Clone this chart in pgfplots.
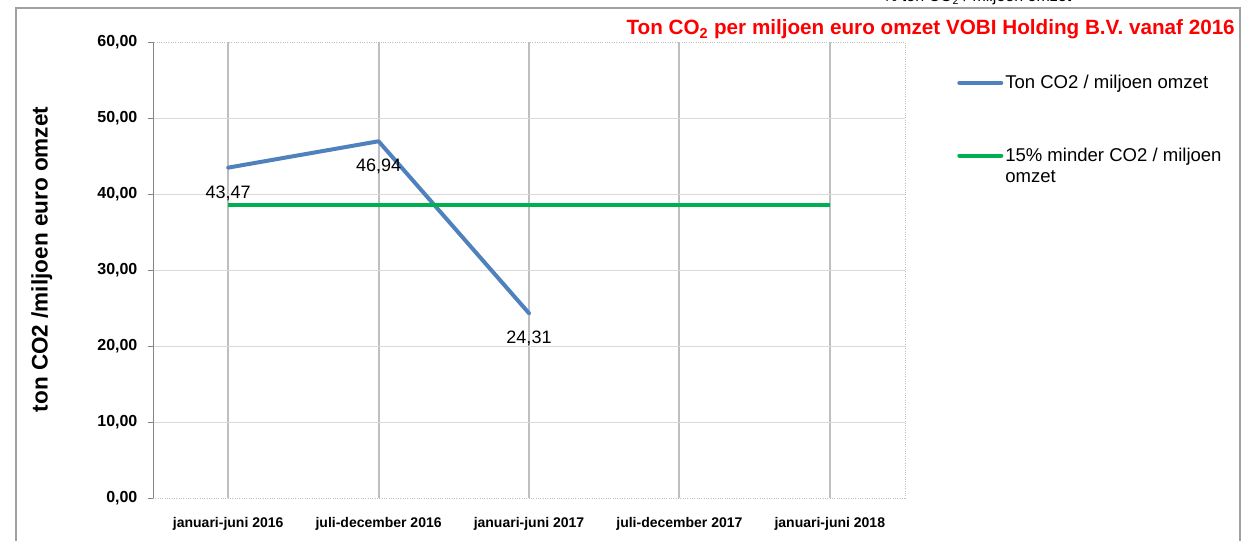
\documentclass[border=0pt]{standalone}
\usepackage{pgfplots}
\pgfplotsset{compat=1.18}
\usepackage{fontspec}
\setmainfont{Liberation Sans}
\definecolor{blueline}{HTML}{4F81BD}
\definecolor{greenline}{HTML}{00B050}
\definecolor{vgrid}{HTML}{BFBFBF}
\definecolor{hgrid}{HTML}{D9D9D9}
\definecolor{axgray}{HTML}{868686}
\definecolor{framegray}{HTML}{A0A0A0}
\begin{document}
\begin{tikzpicture}
\useasboundingbox (0,0) rectangle (930.75pt,405pt);
\draw[framegray, line width=1.1pt] (12pt,-5pt) -- (12pt,399pt) -- (930pt,399pt) -- (930pt,-5pt);
\node[anchor=base west, inner sep=0pt, font=\fontsize{12}{14}\selectfont] at (662.25pt,403.5pt) {\% ton CO\textsubscript{2} / miljoen omzet};
\node[anchor=base east, inner sep=0pt, text=red, font=\fontsize{15.5}{18}\selectfont\bfseries] at (926.25pt,378.75pt) {Ton CO\textsubscript{2} per miljoen euro omzet VOBI Holding B.V. vanaf 2016};
\node[rotate=90, inner sep=0pt, font=\fontsize{16.9}{19}\selectfont\bfseries] at (31.3pt,210.4pt) {ton CO2 /miljoen euro omzet};
\begin{axis}[
  at={(114.75pt,31.5pt)}, anchor=south west,
  scale only axis, width=564pt, height=342pt,
  xmin=-0.5, xmax=4.5, ymin=0, ymax=60,
  /pgf/number format/assume math mode=true,
  xtick={0,1,2,3,4},
  xticklabels={januari-juni 2016, juli-december 2016, januari-juni 2017, juli-december 2017, januari-juni 2018},
  xticklabel style={font=\fontsize{10.5}{12}\selectfont\bfseries, inner sep=0pt, anchor=north, yshift=-10.3pt},
  xtick style={draw=none},
  ytick={0,10,...,60},
  yticklabel={\pgfmathprintnumber[fixed,fixed zerofill,precision=2,use comma]{\tick}},
  yticklabel style={font=\fontsize{12}{14}\selectfont\bfseries, inner sep=0pt, xshift=-7.5pt},
  tick align=outside, ytick pos=left, major tick length=4pt,
  ytick style={axgray, line width=0.75pt},
  xmajorgrids=true,
  major x grid style={vgrid, line width=1.5pt},
  extra y ticks={10,20,30,40,50},
  extra y tick labels={},
  extra y tick style={grid=major, major grid style={hgrid, line width=0.75pt}},
  axis line style={vgrid, densely dotted, line width=0.75pt},
  legend style={at={(axis description cs:1,1)}, anchor=north west, xshift=39pt, yshift=-23pt,
    draw=none, fill=none, inner sep=0pt, row sep=40pt,
    font=\fontsize{13.9}{15.75}\selectfont, nodes={inner sep=1.5pt}, cells={anchor=base west}},
  legend image code/.code={\draw[#1, line cap=round] (0pt,4.2pt) -- (31.5pt,4.2pt);},
]
\addplot[blueline, line width=3pt, line cap=round, line join=round,
  nodes near coords, point meta=explicit symbolic,
  every node near coord/.style={anchor=center, yshift=-19pt, font=\fontsize{13.5}{16}\selectfont, text=black}]
  coordinates {(0,43.47)[43,47] (1,46.94)[46,94] (2,24.31)[24,31]};
\addlegendentry{Ton CO2 / miljoen omzet}
\addplot[greenline, line width=3pt]
  coordinates {(0,38.57) (1,38.57) (2,38.57) (3,38.57) (4,38.57)};
\addlegendentry{\parbox[t]{200pt}{15\% minder CO2 / miljoen\\omzet}}
\draw[axgray, line width=1.5pt] (rel axis cs:0,0) -- (rel axis cs:0,1);
\end{axis}
\end{tikzpicture}
\end{document}
